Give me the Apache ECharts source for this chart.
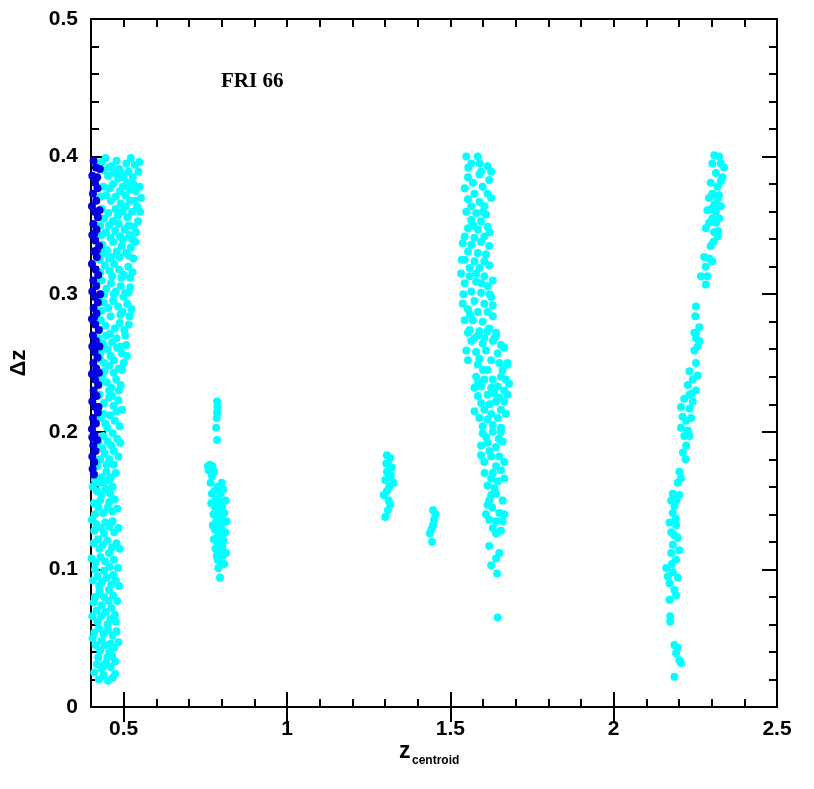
<!DOCTYPE html>
<html>
<head>
<meta charset="utf-8">
<script src="https://cdn.jsdelivr.net/npm/echarts@6/dist/echarts.min.js"></script>
<style>html,body{margin:0;padding:0;background:#fff;}#c{width:814px;height:789px;}</style>
</head>
<body>
<div id="c"></div>
<script>
// ---- data (x = z_centroid, y = Δz) ----
const xLabels = [0.5, 1, 1.5, 2, 2.5];
const xMajor = [0.5, 1, 1.5, 2];

const blueLeft = [
[0.408,0.397],[0.415,0.392],[0.404,0.386],[0.412,0.381],[0.420,0.377],[0.406,0.373],[0.416,0.368],[0.403,0.364],[0.411,0.360],[0.421,0.356],
[0.407,0.351],[0.417,0.347],[0.404,0.343],[0.413,0.339],[0.425,0.335],[0.409,0.331],[0.418,0.327],[0.403,0.322],[0.414,0.318],[0.422,0.314],
[0.407,0.310],[0.416,0.306],[0.404,0.302],[0.412,0.298],[0.421,0.294],[0.408,0.290],[0.417,0.286],[0.403,0.282],[0.413,0.278],[0.424,0.274],
[0.406,0.270],[0.415,0.266],[0.404,0.262],[0.411,0.258],[0.420,0.254],[0.407,0.250],[0.416,0.246],[0.403,0.242],[0.412,0.238],[0.422,0.234],
[0.408,0.230],[0.417,0.226],[0.404,0.222],[0.413,0.218],[0.421,0.214],[0.406,0.210],[0.415,0.206],[0.403,0.202],[0.411,0.198],[0.419,0.194],
[0.407,0.190],[0.414,0.186],[0.404,0.182],[0.410,0.178],[0.405,0.173],[0.409,0.169],
[0.427,0.391],[0.426,0.361],[0.428,0.300],[0.426,0.262],[0.424,0.243],[0.423,0.218],[0.419,0.385],[0.410,0.344],[0.418,0.332],[0.409,0.283],[0.411,0.226],[0.404,0.196]
];

const cyanLeft = [
[0.432,0.396],[0.445,0.399],[0.462,0.393],[0.478,0.397],[0.492,0.388],[0.508,0.395],[0.522,0.399],[0.534,0.394],[0.545,0.389],[0.528,0.385],
[0.512,0.381],[0.498,0.378],[0.483,0.384],[0.468,0.380],[0.452,0.386],[0.438,0.378],[0.430,0.371],[0.447,0.372],[0.461,0.368],[0.476,0.371],
[0.491,0.366],[0.505,0.372],[0.519,0.368],[0.537,0.375],[0.549,0.378],[0.541,0.364],[0.526,0.360],[0.511,0.356],[0.497,0.360],[0.482,0.357],
[0.467,0.353],[0.453,0.359],[0.440,0.355],[0.428,0.350],[0.446,0.345],[0.460,0.341],[0.474,0.346],[0.489,0.342],[0.503,0.347],[0.518,0.343],
[0.531,0.349],[0.544,0.353],[0.536,0.338],[0.522,0.334],[0.507,0.330],[0.494,0.335],[0.479,0.331],[0.463,0.327],[0.449,0.332],[0.435,0.336],
[0.427,0.325],[0.442,0.321],[0.456,0.317],[0.471,0.322],[0.486,0.318],[0.500,0.314],[0.514,0.320],[0.527,0.316],[0.520,0.305],[0.505,0.301],
[0.491,0.306],[0.476,0.302],[0.461,0.308],[0.447,0.304],[0.432,0.310],[0.425,0.298],[0.439,0.294],[0.453,0.290],[0.468,0.295],[0.483,0.291],
[0.497,0.287],[0.511,0.293],[0.524,0.289],[0.516,0.278],[0.502,0.274],[0.488,0.279],[0.473,0.275],[0.458,0.271],[0.444,0.277],[0.430,0.281],
[0.423,0.268],[0.437,0.264],[0.451,0.260],[0.465,0.265],[0.480,0.261],[0.494,0.257],[0.508,0.263],[0.500,0.250],[0.485,0.246],[0.470,0.252],
[0.455,0.248],[0.441,0.244],[0.427,0.253],[0.433,0.240],[0.448,0.236],[0.462,0.232],[0.477,0.238],[0.491,0.234],[0.484,0.223],[0.469,0.219],
[0.455,0.225],[0.440,0.221],[0.426,0.227],[0.430,0.210],[0.444,0.206],[0.458,0.212],[0.473,0.208],[0.488,0.204],[0.495,0.216],[0.480,0.195],
[0.466,0.199],[0.451,0.193],[0.437,0.197],[0.423,0.192],[0.428,0.180],[0.442,0.184],[0.456,0.180],[0.470,0.186],[0.484,0.182],[0.476,0.170],
[0.461,0.167],[0.447,0.171],[0.433,0.167],[0.419,0.175],[0.405,0.160],[0.418,0.157],[0.431,0.154],[0.445,0.158],[0.459,0.155],[0.472,0.151],
[0.465,0.142],[0.451,0.145],[0.437,0.141],[0.423,0.145],[0.409,0.148],[0.403,0.136],[0.416,0.133],[0.430,0.130],[0.444,0.134],[0.457,0.131],
[0.471,0.127],[0.484,0.130],[0.478,0.119],[0.464,0.116],[0.450,0.121],[0.436,0.118],[0.422,0.122],[0.408,0.119],[0.402,0.108],[0.415,0.105],
[0.429,0.109],[0.443,0.106],[0.457,0.102],[0.470,0.107],[0.482,0.101],[0.476,0.092],[0.462,0.089],[0.448,0.094],[0.434,0.091],[0.420,0.095],
[0.406,0.092],[0.412,0.080],[0.426,0.084],[0.440,0.080],[0.454,0.077],[0.468,0.081],[0.480,0.077],[0.473,0.067],[0.459,0.064],[0.445,0.069],
[0.431,0.066],[0.417,0.070],[0.404,0.066],[0.410,0.054],[0.424,0.057],[0.438,0.053],[0.452,0.056],[0.466,0.052],[0.478,0.055],[0.470,0.043],
[0.456,0.040],[0.442,0.045],[0.428,0.041],[0.414,0.045],[0.418,0.031],[0.432,0.028],[0.446,0.032],[0.460,0.029],[0.474,0.033],[0.466,0.021],
[0.452,0.019],[0.438,0.023],[0.424,0.020]
];

const cyanLeftFill = [
[0.439,0.390],[0.455,0.392],[0.470,0.388],[0.486,0.391],[0.500,0.385],[0.515,0.389],[0.530,0.380],[0.548,0.396],[0.553,0.370],[0.457,0.377],
[0.489,0.375],[0.520,0.376],[0.434,0.362],[0.475,0.362],[0.505,0.364],[0.533,0.368],[0.550,0.360],[0.455,0.350],[0.485,0.351],[0.515,0.350],
[0.538,0.345],[0.432,0.343],[0.468,0.338],[0.498,0.340],[0.526,0.340],
[0.440,0.330],[0.455,0.326],[0.488,0.327],[0.515,0.328],[0.530,0.326],[0.428,0.316],[0.465,0.313],[0.493,0.312],[0.520,0.312],[0.440,0.300],
[0.470,0.300],[0.500,0.298],[0.515,0.301],[0.432,0.288],[0.460,0.284],[0.490,0.285],[0.518,0.284],[0.446,0.270],[0.478,0.268],[0.505,0.270],
[0.430,0.258],[0.460,0.255],[0.490,0.262],[0.510,0.255],
[0.440,0.250],[0.470,0.243],[0.495,0.245],[0.425,0.235],[0.455,0.230],[0.485,0.230],[0.438,0.213],[0.465,0.226],[0.478,0.215],[0.450,0.203],
[0.435,0.188],[0.462,0.190],[0.490,0.192],[0.448,0.176],[0.470,0.176],[0.424,0.163],[0.455,0.165],
[0.412,0.165],[0.440,0.163],[0.466,0.160],[0.428,0.150],[0.456,0.149],[0.480,0.144],[0.412,0.140],[0.440,0.126],[0.466,0.135],[0.410,0.128],
[0.426,0.115],[0.455,0.112],[0.488,0.115],[0.412,0.100],[0.440,0.099],[0.468,0.096],[0.425,0.088],[0.455,0.085],[0.486,0.088],[0.408,0.076],
[0.432,0.074],[0.462,0.072],[0.476,0.062],[0.420,0.062],[0.450,0.060],[0.405,0.050],[0.432,0.048],[0.460,0.046],[0.484,0.047],[0.422,0.036],
[0.450,0.036],[0.465,0.037],[0.410,0.025],[0.440,0.030],[0.474,0.024]
];

const cyan080 = [
[0.786,0.222],[0.787,0.218],[0.786,0.214],[0.785,0.210],[0.783,0.203],[0.786,0.194],
[0.764,0.176],[0.772,0.175],[0.760,0.172],[0.776,0.171],[0.770,0.168],[0.800,0.163],[0.788,0.160],[0.778,0.157],[0.796,0.155],[0.805,0.158],
[0.782,0.151],[0.792,0.149],[0.801,0.146],[0.786,0.143],[0.775,0.140],[0.797,0.139],[0.808,0.141],[0.783,0.135],[0.793,0.132],[0.804,0.134],
[0.779,0.129],[0.790,0.126],[0.800,0.124],[0.811,0.127],[0.786,0.120],[0.796,0.118],[0.806,0.121],[0.781,0.115],[0.792,0.112],[0.803,0.110],
[0.788,0.107],[0.798,0.104],[0.790,0.101],[0.802,0.116],[0.813,0.112],[0.776,0.122],[0.795,0.094],
[0.766,0.163],[0.768,0.148],[0.812,0.150],[0.773,0.132],
[0.780,0.145],[0.798,0.130],[0.785,0.110],[0.808,0.104],[0.770,0.155],[0.815,0.135],[0.758,0.175]
];

const cyan131 = [
[1.306,0.183],[1.316,0.181],[1.309,0.177],[1.321,0.174],[1.306,0.171],[1.311,0.167],[1.326,0.163],[1.301,0.165],[1.313,0.160],[1.306,0.157],
[1.296,0.154],[1.311,0.150],[1.316,0.147],[1.309,0.143],[1.301,0.138],[1.304,0.177],[1.318,0.168]
];

const cyan145 = [
[1.447,0.143],[1.455,0.140],[1.450,0.136],[1.447,0.132],[1.442,0.129],[1.437,0.126],[1.444,0.120]
];

const cyan160 = [
[1.549,0.400],[1.584,0.400],[1.564,0.395],[1.614,0.393],[1.625,0.389],[1.594,0.389],[1.554,0.385],[1.589,0.387],[1.619,0.383],[1.544,0.377],
[1.569,0.381],[1.599,0.378],[1.574,0.373],[1.614,0.373],[1.554,0.369],[1.589,0.367],[1.625,0.370],[1.564,0.364],[1.604,0.364],[1.549,0.360],
[1.579,0.359],[1.609,0.358],[1.564,0.354],[1.594,0.353],[1.554,0.348],[1.584,0.347],[1.614,0.349],[1.544,0.342],[1.574,0.341],[1.604,0.342],
[1.538,0.337],[1.564,0.336],[1.594,0.338],[1.619,0.335],[1.554,0.331],[1.584,0.330],[1.609,0.329],[1.544,0.325],[1.574,0.324],[1.604,0.324],
[1.559,0.319],[1.589,0.319],[1.619,0.321],[1.533,0.315],[1.579,0.315],[1.559,0.313],[1.604,0.313],[1.544,0.308],[1.579,0.309],[1.614,0.306],
[1.564,0.302],[1.594,0.301],[1.625,0.298],[1.538,0.293],[1.574,0.295],[1.604,0.293],[1.630,0.292],[1.554,0.289],[1.584,0.287],[1.614,0.287],
[1.544,0.281],[1.569,0.281],[1.599,0.280],[1.630,0.284],[1.559,0.274],[1.589,0.273],[1.619,0.275],[1.640,0.272],[1.574,0.268],[1.604,0.268],[1.635,0.268],
[1.554,0.272],[1.584,0.270],[1.614,0.273],[1.640,0.270],[1.564,0.266],[1.599,0.264],[1.630,0.266],[1.655,0.263],[1.549,0.259],[1.579,0.258],
[1.609,0.259],[1.645,0.257],[1.665,0.261],[1.554,0.252],[1.589,0.253],[1.625,0.252],[1.650,0.250],[1.675,0.250],
[1.584,0.249],[1.614,0.245],[1.675,0.249],[1.579,0.240],[1.604,0.238],[1.630,0.238],[1.655,0.240],[1.670,0.238],[1.574,0.232],[1.594,0.233],
[1.625,0.232],[1.645,0.233],[1.665,0.230],[1.584,0.226],[1.614,0.227],[1.635,0.228],[1.675,0.227],[1.594,0.221],[1.640,0.222],[1.665,0.222],
[1.574,0.215],[1.604,0.216],[1.625,0.213],[1.655,0.216],[1.670,0.213],[1.589,0.210],[1.614,0.209],[1.645,0.210],[1.599,0.204],[1.630,0.205],[1.655,0.203],
[1.599,0.199],[1.630,0.200],[1.655,0.200],[1.594,0.190],[1.614,0.192],[1.640,0.189],[1.660,0.193],[1.594,0.183],[1.625,0.182],[1.650,0.182],
[1.665,0.178],[1.604,0.178],[1.640,0.175],[1.630,0.170],[1.625,0.166],[1.665,0.166],[1.645,0.164],[1.614,0.161],[1.635,0.159],[1.625,0.154],
[1.619,0.150],[1.660,0.150],[1.614,0.147],[1.609,0.140],[1.650,0.141],[1.665,0.140],[1.619,0.136],[1.640,0.135],[1.660,0.135],[1.630,0.130],[1.640,0.126],
[1.619,0.117],[1.650,0.112],[1.640,0.108],[1.625,0.103],[1.643,0.097],[1.645,0.065],
[1.535,0.325],[1.570,0.350],[1.600,0.360],[1.620,0.345],[1.590,0.395],[1.555,0.392],[1.630,0.310],[1.540,0.300],[1.560,0.285],[1.595,0.308],
[1.620,0.300],[1.660,0.245],[1.680,0.235],[1.600,0.245],[1.650,0.225],[1.620,0.220],[1.585,0.236],[1.610,0.196],[1.648,0.195],[1.620,0.186],
[1.605,0.170],[1.655,0.172],[1.640,0.155],[1.628,0.145],[1.655,0.128]
];

const cyan230 = [
[2.308,0.401],[2.323,0.400],[2.302,0.395],[2.338,0.392],[2.313,0.388],[2.333,0.385],[2.297,0.381],[2.318,0.378],[2.328,0.382],[2.302,0.373],
[2.292,0.370],[2.318,0.369],[2.308,0.365],[2.328,0.364],[2.287,0.361],[2.313,0.360],[2.302,0.355],[2.323,0.355],[2.292,0.352],[2.313,0.352],
[2.282,0.348],[2.308,0.345],[2.318,0.342],[2.297,0.335],[2.277,0.327],[2.292,0.326],[2.302,0.324],[2.282,0.320],[2.267,0.313],[2.287,0.313],
[2.282,0.307],[2.252,0.291],[2.250,0.284],[2.262,0.276],[2.247,0.272],[2.252,0.268],
[2.252,0.272],[2.262,0.266],[2.247,0.259],[2.252,0.250],[2.232,0.244],[2.257,0.241],[2.242,0.238],[2.227,0.234],[2.252,0.230],[2.232,0.227],
[2.216,0.224],[2.242,0.222],[2.206,0.218],[2.232,0.217],[2.211,0.211],[2.237,0.210],[2.206,0.203],[2.227,0.201],[2.216,0.197],[2.232,0.197],
[2.222,0.190],[2.220,0.180],[2.201,0.171],[2.206,0.166],[2.196,0.163],[2.181,0.155],[2.201,0.154],[2.176,0.150],[2.186,0.146],[2.181,0.141],
[2.171,0.134],[2.191,0.132],[2.176,0.127],[2.196,0.123],[2.181,0.118],[2.201,0.114],[2.176,0.112],[2.191,0.107],[2.161,0.101],[2.181,0.098],
[2.166,0.095],[2.196,0.094],[2.171,0.090],[2.186,0.085],[2.191,0.081],[2.171,0.078],[2.173,0.066],[2.173,0.062],[2.186,0.045],[2.196,0.043],
[2.191,0.039],[2.201,0.034],[2.206,0.032],[2.186,0.022],
[2.322,0.372],[2.310,0.372],[2.298,0.362],[2.320,0.346],[2.328,0.395],[2.305,0.338],[2.257,0.262],[2.240,0.228],[2.222,0.208],[2.212,0.185],
[2.192,0.150],[2.185,0.125],[2.178,0.104],[2.190,0.137]
];

const cyanAll = [].concat(cyanLeft, cyanLeftFill, cyan080, cyan131, cyan145, cyan160, cyan230);

const FONT = 'Liberation Sans';
const chart = echarts.init(document.getElementById('c'), null, {renderer: 'canvas'});
const lineStyle = {color: '#000', width: 2};
const baseX = {type: 'value', min: 0.4, max: 2.5, splitLine: {show: false}, gridIndex: 0};
const baseY = {type: 'value', min: 0, max: 0.5, interval: 0.1, splitLine: {show: false}, gridIndex: 0};

chart.setOption({
  animation: false,
  backgroundColor: '#fff',
  grid: {left: 90, right: 37, top: 19, bottom: 82, containLabel: false},
  xAxis: [
    Object.assign({}, baseX, {position: 'bottom', interval: 0.1,
      axisLine: {show: true, onZero: false, lineStyle: lineStyle},
      axisTick: {show: true, inside: true, length: 8, lineStyle: lineStyle},
      axisLabel: {show: true, customValues: xLabels, margin: 12, color: '#000', fontFamily: FONT, fontWeight: 'bold', fontSize: 21,
        formatter: v => String(v)}
    }),
    Object.assign({}, baseX, {position: 'bottom', interval: 0.1,
      axisLine: {show: false},
      axisTick: {show: true, inside: true, length: 15, customValues: xMajor, lineStyle: lineStyle},
      axisLabel: {show: false}
    }),
    Object.assign({}, baseX, {position: 'top', interval: 0.1,
      axisLine: {show: true, onZero: false, lineStyle: lineStyle},
      axisTick: {show: true, inside: true, length: 8, lineStyle: lineStyle},
      axisLabel: {show: false}
    }),
    Object.assign({}, baseX, {position: 'top', interval: 0.1,
      axisLine: {show: false},
      axisTick: {show: true, inside: true, length: 15, customValues: xMajor, lineStyle: lineStyle},
      axisLabel: {show: false}
    })
  ],
  yAxis: [
    Object.assign({}, baseY, {position: 'left',
      axisLine: {show: true, onZero: false, lineStyle: lineStyle},
      axisTick: {show: true, inside: true, length: 15, lineStyle: lineStyle},
      minorTick: {show: true, splitNumber: 5, length: 8, lineStyle: lineStyle},
      axisLabel: {show: true, margin: 13, color: '#000', fontFamily: FONT, fontWeight: 'bold', fontSize: 21},
      name: 'Δz', nameLocation: 'middle', nameRotate: 90, nameGap: 61,
      nameTextStyle: {color: '#000', fontFamily: FONT, fontWeight: 'bold', fontSize: 22}
    }),
    Object.assign({}, baseY, {position: 'right',
      axisLine: {show: true, onZero: false, lineStyle: lineStyle},
      axisTick: {show: true, inside: true, length: 15, lineStyle: lineStyle},
      minorTick: {show: true, splitNumber: 5, length: 8, lineStyle: lineStyle},
      axisLabel: {show: false}
    })
  ],
  graphic: [
    {type: 'text', left: 221, top: 71, style: {text: 'FRI 66', fill: '#000', font: 'bold 21px "Liberation Serif"'}},
    {type: 'text', left: 399, top: 740, style: {text: 'z', fill: '#000', font: 'bold 23px "Liberation Sans"'}},
    {type: 'text', left: 412, top: 755, style: {text: 'centroid', fill: '#000', font: 'bold 12px "Liberation Sans"'}}
  ],
  series: [
    {type: 'scatter', xAxisIndex: 0, yAxisIndex: 0, data: cyanAll, symbol: 'circle', symbolSize: 8,
      itemStyle: {color: '#00ffff', opacity: 1}, silent: true, large: false},
    {type: 'scatter', xAxisIndex: 0, yAxisIndex: 0, data: blueLeft, symbol: 'circle', symbolSize: 8,
      itemStyle: {color: '#0000e0', opacity: 1}, silent: true, large: false}
  ]
});
</script>
</body>
</html>
